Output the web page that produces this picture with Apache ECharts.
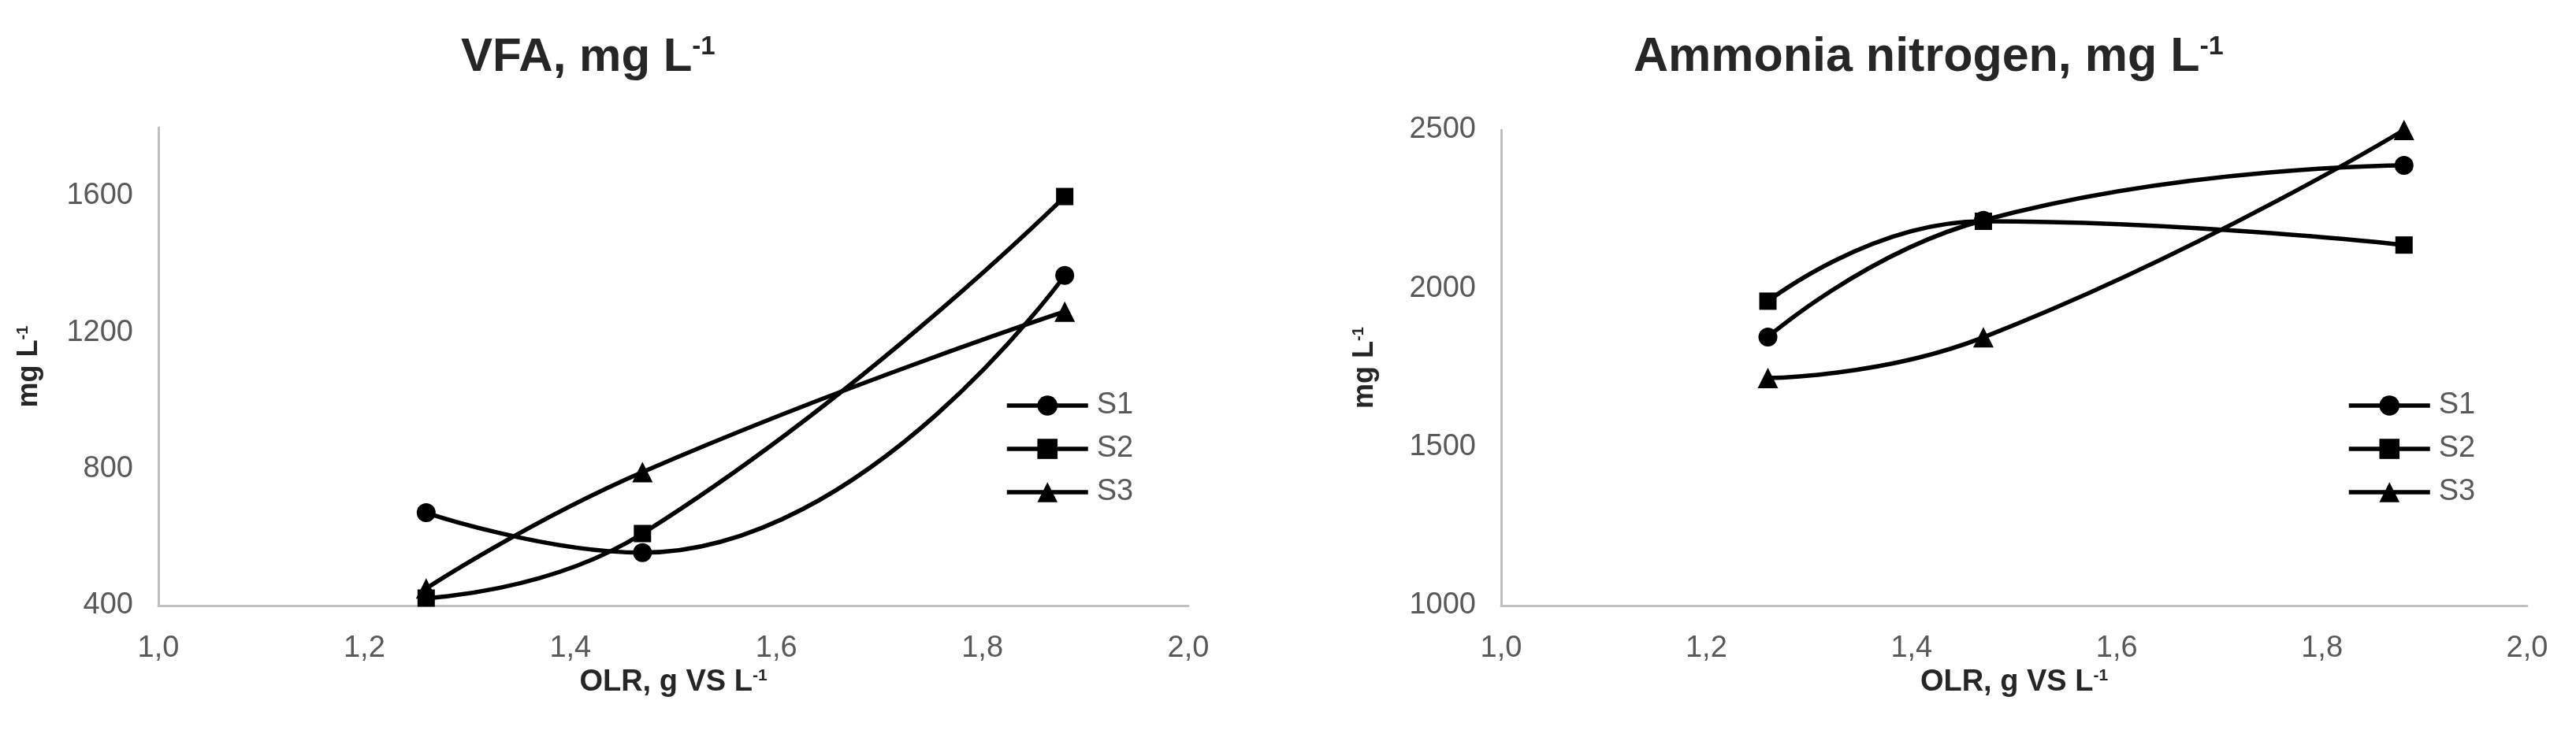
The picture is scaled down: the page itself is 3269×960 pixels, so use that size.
<!DOCTYPE html>
<html>
<head>
<meta charset="utf-8">
<title>VFA and ammonia nitrogen vs OLR</title>
<script src="https://cdn.jsdelivr.net/npm/echarts@6/dist/echarts.min.js"></script>
<style>
  html, body { margin: 0; padding: 0; background: #ffffff; }
  #chart { width: 3269px; height: 960px; }
</style>
</head>
<body>
<div id="chart"></div>
<script>
// OLR (g VS/L) at which the three reactors were sampled
const olr = [1.26, 1.47, 1.88]
const seriesNames = ['S1', 'S2', 'S3']
const symbols = ['circle', 'rect', 'triangle']
const symbolSizes = [24, 22, 26]

// VFA, mg/L
const vfaS1 = [672, 555, 1367]
const vfaS2 = [422, 611, 1598]
const vfaS3 = [450, 791, 1261]

// ammonia nitrogen, mg/L
const nh4S1 = [1847, 2215, 2388]
const nh4S2 = [1960, 2212, 2137]
const nh4S3 = [1718, 1846, 2500]

// tick labels
const xTicks = ['1,0', '1,2', '1,4', '1,6', '1,8', '2,0']
const vfaTicks = [400, 800, 1200, 1600]
const nh4Ticks = [1000, 1500, 2000, 2500]

const FONT = 'Liberation Sans, Arial, sans-serif'
const LABEL_GREY = '#595959'
const AXIS_GREY = '#bfbfbf'
const DARK = '#262626'

const chart = echarts.init(document.getElementById('chart'))

function supRich(size) {
  return {
    m: { fontSize: size, fontWeight: 'bold', color: DARK, fontFamily: FONT },
    s: { fontSize: Math.round(size * 0.55), fontWeight: 'bold', color: DARK, fontFamily: FONT, verticalAlign: 'top' }
  }
}

function xAxis(gridIndex) {
  return {
    type: 'value',
    gridIndex: gridIndex,
    min: 1,
    max: 2,
    interval: 0.2,
    name: '{m|OLR, g VS L}{s|-1}',
    nameLocation: 'middle',
    nameGap: 66,
    nameTextStyle: { rich: supRich(38) },
    axisLine: { lineStyle: { color: AXIS_GREY, width: 3 } },
    axisTick: { show: false },
    splitLine: { show: false },
    axisLabel: {
      margin: 36,
      color: LABEL_GREY,
      fontSize: 38,
      fontFamily: FONT,
      formatter: v => {
        const s = v.toFixed(1).replace('.', ',')
        return xTicks.includes(s) ? s : ''
      }
    }
  }
}

function yAxis(gridIndex, min, max, interval, ticks, gap) {
  return {
    type: 'value',
    gridIndex: gridIndex,
    min: min,
    max: max,
    interval: interval,
    name: '{m|mg L}{s|-1}',
    nameLocation: 'middle',
    nameRotate: 90,
    nameGap: gap,
    nameTextStyle: { rich: supRich(36) },
    axisLine: { show: true, lineStyle: { color: AXIS_GREY, width: 3 } },
    axisTick: { show: false },
    splitLine: { show: false },
    axisLabel: {
      margin: 32,
      color: LABEL_GREY,
      fontSize: 38,
      fontFamily: FONT,
      formatter: v => (ticks.includes(v) ? String(v) : '')
    }
  }
}

function lineSeries(name, idx, values, gridIndex) {
  return {
    name: name,
    type: 'line',
    xAxisIndex: gridIndex,
    yAxisIndex: gridIndex,
    smooth: true,
    symbol: symbols[idx],
    symbolSize: symbolSizes[idx],
    lineStyle: { color: '#000000', width: 5.5 },
    itemStyle: { color: '#000000' },
    data: olr.map((x, i) => [x, values[i]])
  }
}

function legend(left) {
  return {
    data: seriesNames,
    orient: 'vertical',
    left: left,
    top: 491,
    itemWidth: 103,
    itemHeight: 32,
    itemGap: 17,
    selectedMode: false,
    lineStyle: { color: '#000000', width: 5.5 },
    itemStyle: { color: '#000000' },
    textStyle: { color: LABEL_GREY, fontSize: 38, lineHeight: 38, fontFamily: FONT, padding: [0, 0, 0, 6] }
  }
}

chart.setOption({
  backgroundColor: '#ffffff',
  animation: false,
  title: [
    { text: '{m|VFA, mg L}{s|-1}', left: 580, top: 38, textStyle: { rich: supRich(60) } },
    { text: '{m|Ammonia nitrogen, mg L}{s|-1}', left: 2068, top: 38, textStyle: { rich: supRich(61) } }
  ],
  legend: [legend(1270), legend(2973)],
  grid: [
    { left: 201, top: 162, width: 1307, height: 607 },
    { left: 1905, top: 165, width: 1302, height: 604 }
  ],
  xAxis: [xAxis(0), xAxis(1)],
  yAxis: [
    yAxis(0, 400, 1800, 400, vfaTicks, 146),
    yAxis(1, 1000, 2500, 500, nh4Ticks, 155)
  ],
  series: [
    lineSeries(seriesNames[0], 0, vfaS1, 0),
    lineSeries(seriesNames[1], 1, vfaS2, 0),
    lineSeries(seriesNames[2], 2, vfaS3, 0),
    lineSeries(seriesNames[0], 0, nh4S1, 1),
    lineSeries(seriesNames[1], 1, nh4S2, 1),
    lineSeries(seriesNames[2], 2, nh4S3, 1)
  ]
})
</script>
</body>
</html>
